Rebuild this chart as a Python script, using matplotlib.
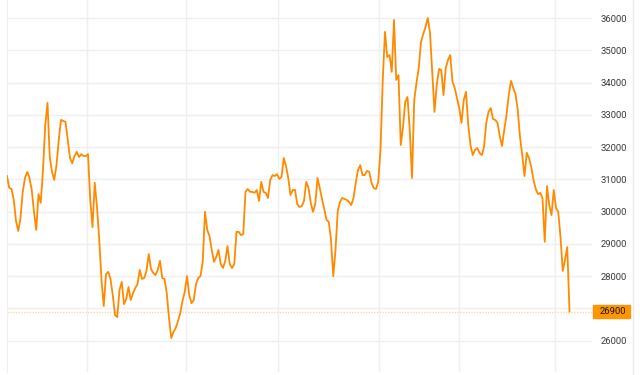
import matplotlib
matplotlib.use('Agg')
import matplotlib.pyplot as plt
import matplotlib.transforms as mtransforms
from matplotlib.patches import Rectangle

plt.rcParams['font.family'] = ['Roboto', 'DejaVu Sans']

# price series (one value per trading day)
prices = [
    31100, 30730, 30700, 30360, 29710, 29400, 29800, 30610, 31040, 31230,
    31040, 30670, 29990, 29430, 30540, 30270, 31290, 32680, 33370, 31690,
    31230, 30980, 31440, 32220, 32840, 32810, 32780, 32220, 31660, 31500,
    31720, 31850, 31690, 31780, 31720, 31720, 31780, 30360, 29520, 30890,
    30140, 29120, 27880, 27070, 28060, 28130, 27910, 27410, 26790, 26730,
    27570, 27820, 27130, 27290, 27660, 27260, 27470, 27630, 27750, 28190,
    27910, 27940, 28160, 28680, 28220, 28100, 28030, 28190, 28470, 27940,
    27910, 27470, 26700, 26080, 26270, 26390, 26610, 26850, 27230, 27510,
    28000, 27410, 27160, 27260, 27750, 27940, 28000, 28440, 29990, 29430,
    29240, 28810, 28440, 28590, 28810, 28370, 28250, 28470, 28930, 28370,
    28250, 28370, 29370, 29370, 29270, 29300, 30610, 30700, 30610, 30610,
    30580, 30670, 30330, 30920, 30610, 30580, 30420, 30980, 31130, 31100,
    31160, 31010, 31070, 31660, 31410, 31040, 30510, 30670, 30670, 30230,
    30140, 30170, 30330, 30920, 30730, 30270, 29990, 30230, 31040, 30730,
    30390, 30080, 29740, 29680, 29120, 28000, 28810, 30020, 30300, 30420,
    30390, 30360, 30300, 30200, 30420, 30890, 31290, 31440, 31130, 31130,
    31260, 31230, 30890, 30730, 30700, 30920, 31910, 34080, 35570, 34790,
    34850, 34330, 35940, 34080, 34230, 32060, 32620, 33400, 33550, 32530,
    31040, 33460, 33990, 34450, 35260, 35500, 35720, 36000, 35540, 34330,
    33090, 33920, 34420, 34390, 33610, 34450, 34700, 34850, 34020, 33830,
    33520, 33210, 32750, 33460, 33710, 32680, 32060, 31750, 31910, 31970,
    31820, 31750, 32000, 32750, 33090, 33210, 32870, 32840, 32750, 32340,
    32030, 32530, 32990, 33610, 34050, 33830, 33640, 33150, 32310, 31750,
    31100, 31820, 31660, 31380, 30980, 30700, 30540, 30580, 30420, 29060,
    30790, 30200, 29890, 30670, 30110, 29990, 29210, 28160, 28500, 28900,
    26900,
]
last_price = 26900
y_ticks = list(range(26000, 36001, 1000))
month_starts = [35.5, 79.5, 120.5, 165.5, 201, 243.5]

line_color = '#ff8a00'
grid_color = '#efeff2'

fig = plt.figure(figsize=(6.4, 3.75), dpi=100)
ax = fig.add_axes([7 / 640, 3 / 375, 585 / 640, 372 / 375])

ax.plot(range(len(prices)), prices, color=line_color, lw=1.3, zorder=3,
        solid_joinstyle='round')
ax.axhline(last_price, color='#ffd8a6', lw=1, ls=(0, (1, 1)), zorder=2)

ax.set_xlim(0, 260)
ax.set_ylim(25026, 36558)

# the 27000 label sits under the last-price badge, so it is left blank
ax.set_yticks(y_ticks)
ax.set_yticklabels(['' if abs(v - last_price) < 500 else str(v) for v in y_ticks])
ax.set_xticks(month_starts)
ax.set_xticklabels([])
ax.yaxis.tick_right()
ax.tick_params(axis='y', length=0, pad=6, labelsize=6.8, labelcolor='#3a3a3a')
ax.tick_params(axis='x', length=0)
ax.grid(True, color=grid_color, lw=1)
ax.set_axisbelow(True)

for side in ['top', 'right', 'bottom']:
    ax.spines[side].set_visible(False)
ax.spines['left'].set_color(grid_color)

# last-price badge on the right axis
trans = mtransforms.blended_transform_factory(ax.transAxes, ax.transData)
badge = Rectangle((1.0017, last_price - 210), 0.0632, 420, transform=trans,
                  facecolor='#ff9500', edgecolor='#ff9500', clip_on=False, zorder=5)
ax.add_patch(badge)
ax.text(1.0137, last_price, str(last_price), transform=trans, ha='left',
        va='center', fontsize=6.8, color='#1a1a1a', zorder=6, clip_on=False)

fig.add_artist(plt.Line2D([633 / 640, 633 / 640], [0, 1], color='#ededf0', lw=1))

fig.savefig('out.png', dpi=100, facecolor='white')
